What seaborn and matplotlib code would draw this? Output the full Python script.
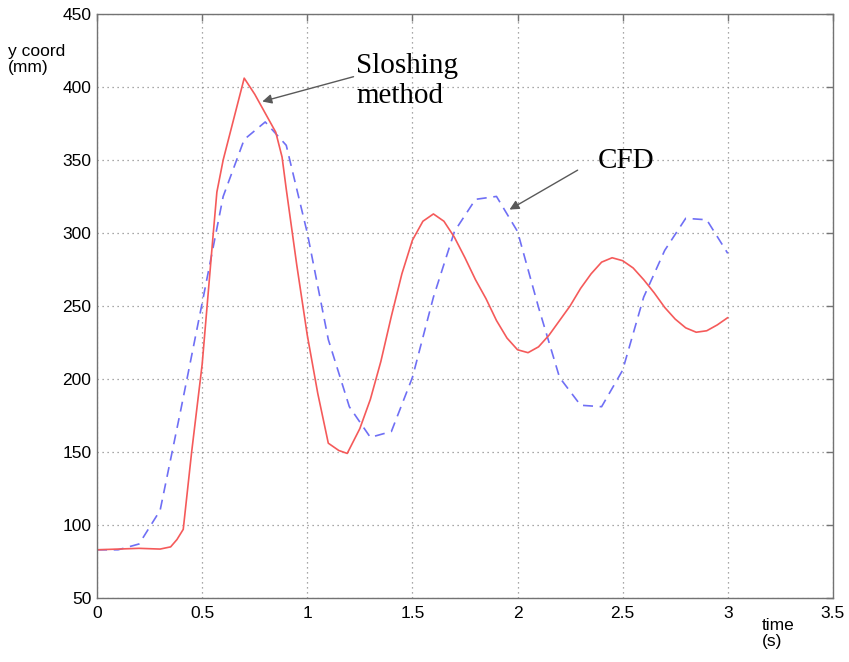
import pandas as pd
import matplotlib.pyplot as plt
import seaborn as sns

# CFD result (blue dashed), sampled every 0.1 s
cfd_t = [0.0, 0.1, 0.2, 0.3, 0.4, 0.5, 0.6, 0.7, 0.8, 0.9, 1.0, 1.1, 1.2, 1.3, 1.4, 1.5,
         1.6, 1.7, 1.8, 1.9, 2.0, 2.1, 2.2, 2.3, 2.4, 2.5, 2.6, 2.7, 2.8, 2.9, 3.0]
cfd_y = [83, 83, 87, 110, 180, 252, 325, 364, 376, 360, 300, 227, 181, 160, 164, 201,
         256, 301, 323, 325, 301, 249, 201, 182, 181, 206, 256, 288, 310, 309, 286]

# sloshing method (red solid)
slosh_t = [0.0, 0.1, 0.2, 0.3, 0.35, 0.38, 0.41, 0.45, 0.5, 0.55, 0.57, 0.6, 0.7, 0.75,
           0.8, 0.85, 0.88, 0.9, 0.95, 1.0, 1.05, 1.1, 1.15, 1.19, 1.25, 1.3, 1.35, 1.4,
           1.45, 1.5, 1.55, 1.6, 1.65, 1.7, 1.75, 1.8, 1.85, 1.9, 1.95, 2.0, 2.05, 2.1,
           2.15, 2.2, 2.25, 2.3, 2.35, 2.4, 2.45, 2.5, 2.55, 2.6, 2.65, 2.7, 2.75, 2.8,
           2.85, 2.9, 2.95, 3.0]
slosh_y = [83, 83.5, 84, 83.5, 85, 90, 97, 150, 210, 295, 328, 350, 406, 395,
           382, 369, 352, 330, 278, 230, 190, 156, 151, 149, 166, 186, 212, 243,
           272, 295, 308, 313, 308, 297, 283, 268, 255, 240, 228, 220, 218, 222,
           230, 240, 250, 262, 272, 280, 283, 281, 276, 268, 259, 249, 241, 235,
           232, 233, 237, 242]

x_ticks = [0, 0.5, 1, 1.5, 2, 2.5, 3, 3.5]
x_labels = ["0", "0.5", "1", "1.5", "2", "2.5", "3", "3.5"]
y_ticks = [50, 100, 150, 200, 250, 300, 350, 400, 450]

cfd = pd.DataFrame({"t": cfd_t, "y": cfd_y})
slosh = pd.DataFrame({"t": slosh_t, "y": slosh_y})

sns.set_theme(style="white")
plt.rcParams["font.family"] = ["Liberation Sans", "DejaVu Sans"]
plt.rcParams["text.color"] = "black"

fig = plt.figure(figsize=(8.49, 6.62), dpi=100)
ax = fig.add_axes([0.1143, 0.0967, 0.8667, 0.8823])

sns.lineplot(data=cfd, x="t", y="y", ax=ax, color="#6f6ff5", lw=1.2,
             linestyle=(0, (6, 4)), sort=False)
sns.lineplot(data=slosh, x="t", y="y", ax=ax, color="#f55a5a", lw=1.2, sort=False)

ax.set_xlim(0, 3.5)
ax.set_ylim(50, 450)
ax.set_xticks(x_ticks)
ax.set_xticklabels(x_labels)
ax.set_yticks(y_ticks)
ax.set_xlabel("")
ax.set_ylabel("")
ax.grid(True, linestyle=(0, (1, 3)), color="0.55", lw=0.9)
for s in ax.spines.values():
    s.set_color("0.45")
    s.set_linewidth(1.0)
ax.tick_params(direction="in", length=5, width=1, color="0.45",
               labelsize=12.5, labelcolor="black", pad=4, top=True, right=True)
ax.tick_params(axis="x", pad=6)

fig.text(8/849, 1 - 44/662, "y coord\n(mm)", fontsize=12.5, va="top", ha="left",
         linespacing=1.05)
fig.text(762/849, 1 - 618/662, "time\n(s)", fontsize=12.5, va="top", ha="left",
         linespacing=1.05)

serif = ["Liberation Serif", "DejaVu Serif"]
ax.annotate("", xy=(0.786, 390), xytext=(1.22, 407),
            arrowprops=dict(arrowstyle="-|>", color="0.35", lw=1.0,
                            mutation_scale=14, shrinkA=0, shrinkB=0))
ax.text(1.233, 423, "Sloshing\nmethod", family=serif, fontsize=21, va="top",
        ha="left", linespacing=1.2)
ax.annotate("", xy=(1.962, 316), xytext=(2.286, 343),
            arrowprops=dict(arrowstyle="-|>", color="0.35", lw=1.0,
                            mutation_scale=14, shrinkA=0, shrinkB=0))
ax.text(2.38, 349, "CFD", family=serif, fontsize=21, va="center", ha="left")

fig.savefig("out.png", dpi=100)
